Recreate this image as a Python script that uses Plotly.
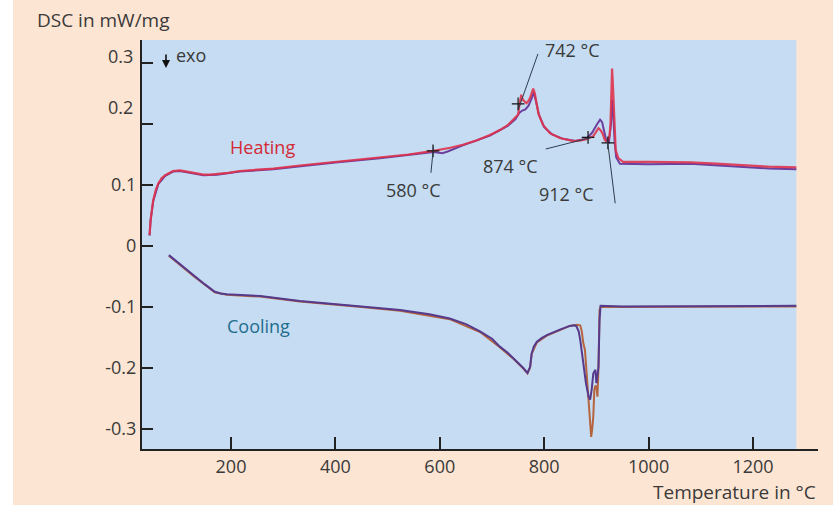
import plotly.graph_objects as go

# ---------------- data ----------------
heat_red_T = [44, 46, 51, 56, 61, 67, 74, 82, 89, 102, 112, 121, 134, 147, 160, 173, 195, 217, 250, 281,
              332, 400, 485, 540, 588, 620, 644, 670, 696, 715, 730, 741, 750, 752, 756, 758, 760, 766,
              770, 773, 776, 779, 782, 784, 789, 798, 811, 830, 856, 870, 881, 894, 900, 904, 908, 912,
              916, 921, 925, 927, 929, 930, 931, 933, 934, 937, 942, 951, 1000, 1080, 1130, 1180, 1230,
              1283]
heat_red_v = [0.018, 0.043, 0.075, 0.092, 0.103, 0.111, 0.116, 0.120, 0.123, 0.124, 0.123, 0.121, 0.119,
              0.117, 0.117, 0.118, 0.120, 0.123, 0.125, 0.127, 0.132, 0.138, 0.145, 0.150, 0.156, 0.161,
              0.166, 0.173, 0.182, 0.190, 0.198, 0.207, 0.215, 0.228, 0.248, 0.242, 0.239, 0.234, 0.238,
              0.243, 0.251, 0.258, 0.250, 0.239, 0.217, 0.198, 0.185, 0.177, 0.172, 0.173, 0.175, 0.180,
              0.188, 0.193, 0.190, 0.184, 0.174, 0.171, 0.180, 0.200, 0.260, 0.291, 0.275, 0.230, 0.207,
              0.157, 0.144, 0.138, 0.138, 0.137, 0.135, 0.132, 0.130, 0.129]

heat_purple_T = [44, 46, 51, 61, 74, 89, 102, 121, 147, 173, 217, 281, 332, 400, 485, 588, 605, 615, 644,
                 696, 730, 745, 752, 758, 764, 770, 776, 780, 784, 790, 800, 815, 835, 860, 881, 892, 900,
                 907, 911, 915, 919, 924, 928, 930, 932, 935, 938, 945, 1000, 1080, 1130, 1180, 1230, 1283]
heat_purple_v = [0.017, 0.042, 0.074, 0.102, 0.115, 0.122, 0.123, 0.120, 0.116, 0.117, 0.122, 0.126,
                 0.131, 0.137, 0.144, 0.154, 0.152, 0.155, 0.165, 0.181, 0.197, 0.208, 0.218, 0.222,
                 0.224, 0.230, 0.242, 0.252, 0.238, 0.215, 0.195, 0.183, 0.176, 0.172, 0.176, 0.186,
                 0.198, 0.207, 0.203, 0.185, 0.172, 0.170, 0.200, 0.240, 0.220, 0.170, 0.145, 0.135,
                 0.134, 0.135, 0.132, 0.129, 0.127, 0.126]

cool_purple_T = [81, 105, 128, 150, 169, 180, 192, 256, 332, 450, 524, 580, 619, 650, 677, 700, 715, 730,
                 741, 752, 760, 768, 773, 776, 780, 786, 795, 805, 818, 830, 849, 858, 862, 866, 869, 872,
                 875, 880, 885, 888, 891, 894, 898, 900, 902, 904, 906, 908, 950, 1060, 1150, 1283]
cool_purple_v = [-0.015, -0.032, -0.048, -0.063, -0.075, -0.078, -0.079, -0.082, -0.090, -0.099, -0.105,
                 -0.112, -0.119, -0.128, -0.140, -0.152, -0.165, -0.175, -0.184, -0.193, -0.200, -0.208,
                 -0.198, -0.176, -0.165, -0.157, -0.151, -0.146, -0.141, -0.137, -0.131, -0.130, -0.132,
                 -0.140, -0.154, -0.176, -0.198, -0.225, -0.247, -0.252, -0.235, -0.209, -0.203, -0.225,
                 -0.212, -0.198, -0.121, -0.098, -0.099, -0.099, -0.098, -0.098]

cool_orange_T = [81, 128, 169, 192, 256, 332, 450, 524, 619, 677, 715, 741, 760, 768, 773, 776, 786, 805,
                 830, 849, 862, 869, 872, 875, 878, 882, 886, 888, 890, 892, 894, 896, 898, 900, 902, 904,
                 906, 908, 1060, 1283]
cool_orange_v = [-0.016, -0.049, -0.076, -0.080, -0.083, -0.091, -0.100, -0.106, -0.120, -0.141, -0.166,
                 -0.185, -0.201, -0.209, -0.199, -0.177, -0.158, -0.147, -0.138, -0.131, -0.129, -0.130,
                 -0.140, -0.160, -0.170, -0.220, -0.280, -0.296, -0.313, -0.300, -0.280, -0.236, -0.229,
                 -0.231, -0.247, -0.198, -0.105, -0.100, -0.100, -0.099]

x_ticks = [200, 400, 600, 800, 1000, 1200]
y_ticks = [-0.3, -0.2, -0.1, 0, 0.1, 0.2, 0.3]
y_tick_text = ["-0.3", "-0.2", "-0.1", "0", "0.1", "", ""]

# onset markers and their labels
onset_T = [587, 750, 884, 922]
onset_v = [0.156, 0.233, 0.178, 0.169]
onset_labels = ["580 °C", "742 °C", "874 °C", "912 °C"]
label_T = [549, 855, 736, 842]
label_v = [0.092, 0.321, 0.131, 0.085]
leader_from_T = [588, 788, 803, 921]
leader_from_v = [0.163, 0.315, 0.159, 0.174]
leader_to_T = [583, 750, 891, 936]
leader_to_v = [0.120, 0.223, 0.178, 0.070]

# ---------------- style ----------------
PEACH = "#FDE5D3"
BLUE = "#C5DCF2"
AXIS = "#222222"
TXT = "#3a3a3a"
FONT = "Open Sans"
PW, PH, ML, MT = 676, 409, 142, 40


def px(xp):
    return (xp - ML) / PW


def py(yp):
    return (MT + PH - yp) / PH


fig = go.Figure()
fig.add_trace(go.Scatter(x=heat_purple_T, y=heat_purple_v, mode="lines",
                         line=dict(color="#6B3F9E", width=2), hoverinfo="skip"))
fig.add_trace(go.Scatter(x=heat_red_T, y=heat_red_v, mode="lines",
                         line=dict(color="#E0344E", width=2.2), opacity=0.9, hoverinfo="skip"))
fig.add_trace(go.Scatter(x=cool_orange_T, y=cool_orange_v, mode="lines",
                         line=dict(color="#B5643E", width=2), hoverinfo="skip"))
fig.add_trace(go.Scatter(x=cool_purple_T, y=cool_purple_v, mode="lines",
                         line=dict(color="#563A8C", width=2), hoverinfo="skip"))
fig.add_trace(go.Scatter(x=onset_T, y=onset_v, mode="markers",
                         marker=dict(symbol="cross-thin", size=9, line=dict(color="#111", width=1.2)),
                         hoverinfo="skip"))

# blue plot region
fig.add_shape(type="rect", xref="x", yref="paper", x0=29.5, x1=1283, y0=0, y1=1,
              fillcolor=BLUE, line=dict(width=0), layer="below")
# white strip at the left edge of the page
fig.add_shape(type="rect", xref="paper", yref="paper", x0=px(-2), x1=px(13), y0=py(510), y1=py(-5),
              fillcolor="white", line=dict(width=0), layer="below")

# leader lines
for x0, y0, x1, y1 in zip(leader_from_T, leader_from_v, leader_to_T, leader_to_v):
    fig.add_shape(type="line", xref="x", yref="y", x0=x0, y0=y0, x1=x1, y1=y1,
                  line=dict(color="#2E3D4E", width=1))

ann = []
for t, v, s in zip(label_T, label_v, onset_labels):
    ann.append(dict(x=t, y=v, xref="x", yref="y", text=s, showarrow=False,
                    xanchor="center", yanchor="middle",
                    font=dict(family=FONT, size=18, color=TXT)))
ann.append(dict(x=260, y=0.162, xref="x", yref="y", text="Heating", showarrow=False,
                xanchor="center", yanchor="middle",
                font=dict(family=FONT, size=18, color="#D42A36")))
ann.append(dict(x=252, y=-0.131, xref="x", yref="y", text="Cooling", showarrow=False,
                xanchor="center", yanchor="middle",
                font=dict(family=FONT, size=18, color="#1F6E8E")))
# y labels drawn slightly offset as in the reference
ann.append(dict(x=0, y=0.3, xref="paper", yref="y", text="0.3", showarrow=False, xanchor="right",
                yanchor="middle", xshift=-7, yshift=7, font=dict(family=FONT, size=18, color=TXT)))
ann.append(dict(x=0, y=0.2, xref="paper", yref="y", text="0.2", showarrow=False, xanchor="right",
                yanchor="middle", xshift=-7, yshift=17, font=dict(family=FONT, size=18, color=TXT)))
# exo arrow
ann.append(dict(x=px(166), y=py(68), xref="paper", yref="paper", text="",
                showarrow=True, ax=0, ay=-15, arrowhead=2, arrowsize=1, arrowwidth=1.6,
                arrowcolor="#111"))
ann.append(dict(x=px(174), y=py(55), xref="paper", yref="paper", text="exo",
                showarrow=False, xanchor="left", yanchor="middle",
                font=dict(family=FONT, size=18, color=TXT)))
# axis titles
ann.append(dict(x=px(35), y=py(20), xref="paper", yref="paper",
                text="DSC in mW/mg", showarrow=False, xanchor="left", yanchor="middle",
                font=dict(family=FONT, size=19, color=TXT)))
ann.append(dict(x=1, y=py(492), xref="paper", yref="paper",
                text="Temperature in °C", showarrow=False, xanchor="right", yanchor="middle",
                font=dict(family=FONT, size=19, color=TXT)))

fig.update_layout(
    width=833, height=505,
    margin=dict(l=ML, r=833 - ML - PW, t=MT, b=505 - MT - PH),
    paper_bgcolor=PEACH, plot_bgcolor=PEACH,
    showlegend=False,
    annotations=ann,
    xaxis=dict(range=[29.5, 1324.5], tickvals=x_ticks, ticks="inside", ticklen=12, tickwidth=2,
               tickcolor=AXIS, showline=True, linecolor=AXIS, linewidth=2, showgrid=False,
               zeroline=False, tickfont=dict(family=FONT, size=18, color=TXT)),
    yaxis=dict(range=[-0.3328, 0.3377], tickvals=y_ticks, ticktext=y_tick_text, ticks="inside",
               ticklen=11, tickwidth=2, tickcolor=AXIS, showline=True, linecolor=AXIS, linewidth=2,
               showgrid=False, zeroline=False, tickfont=dict(family=FONT, size=18, color=TXT)),
)

fig.write_html("out.html", config={"displayModeBar": False},
               post_script="document.body.style.margin='0px';")
